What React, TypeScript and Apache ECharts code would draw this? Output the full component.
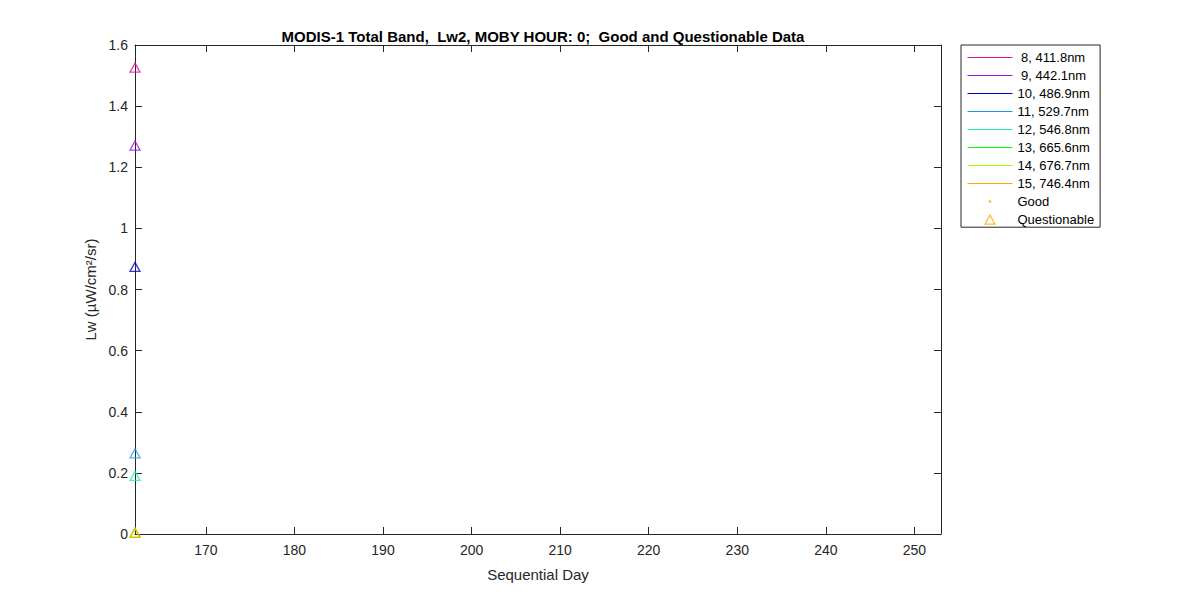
import * as echarts from 'echarts'
import { useEffect, useRef } from 'react'

// Bands and their colours
const bandNames = [
  ' 8, 411.8nm',
  ' 9, 442.1nm',
  '10, 486.9nm',
  '11, 529.7nm',
  '12, 546.8nm',
  '13, 665.6nm',
  '14, 676.7nm',
  '15, 746.4nm'
]
const bandColors = [
  '#E6139B',
  '#9A12E6',
  '#0000CD',
  '#1E9BE6',
  '#1EF0A0',
  '#00FF00',
  '#9BFF00',
  '#FFAA00'
]

// Questionable points (one sequential day)
const questionableDay = [162, 162, 162, 162, 162, 162, 162, 162]
const questionableLw = [1.526, 1.271, 0.874, 0.264, 0.19, 0.004, 0.004, 0.004]

// Good points: none in this picture
const goodDay: number[] = []
const goodLw: number[] = []

const xTicks = [170, 180, 190, 200, 210, 220, 230, 240, 250]

const FONT = '"Liberation Sans", Arial, Helvetica, sans-serif'
const INK = '#262626'
const ORANGE = '#FFAA00'

// legend icons with a 12x12 bounding box so they keep a small size
const triangleIcon = 'path://M0,0 M12,12 M6,1.5 L11,10.5 L1,10.5 Z'
const dotIcon = 'path://M0,0 M12,12 M4.8,4.8 L7.2,4.8 L7.2,7.2 L4.8,7.2 Z'

function App() {
  const chartRef = useRef<HTMLDivElement>(null)

  useEffect(() => {
    if (!chartRef.current) return
    const chart = echarts.init(chartRef.current, undefined, { renderer: 'svg' })

    const xBase = {
      type: 'value' as const,
      min: 162,
      max: 253,
      splitLine: { show: false },
      axisLine: { show: true, onZero: false, lineStyle: { color: INK, width: 1 } },
      axisTick: {
        show: true,
        inside: true,
        length: 7,
        customValues: xTicks,
        lineStyle: { color: INK }
      }
    }
    const yBase = {
      type: 'value' as const,
      min: 0,
      max: 1.6,
      interval: 0.2,
      splitLine: { show: false },
      axisLine: { show: true, onZero: false, lineStyle: { color: INK, width: 1 } },
      axisTick: { show: true, inside: true, length: 7, lineStyle: { color: INK } }
    }

    const lineSeries = bandNames.map((name, i) => ({
      name,
      type: 'line' as const,
      data: [] as number[][],
      symbol: 'none',
      color: bandColors[i],
      lineStyle: { color: bandColors[i], width: 1 }
    }))

    chart.setOption({
      animation: false,
      backgroundColor: '#ffffff',
      textStyle: { fontFamily: FONT },
      title: {
        text: 'MODIS-1 Total Band,  Lw2, MOBY HOUR: 0;  Good and Questionable Data',
        left: 538,
        textAlign: 'center',
        top: 24,
        textStyle: { fontSize: 15, fontWeight: 'bold', color: '#000', fontFamily: FONT }
      },
      grid: { left: 135, right: 259, top: 45, bottom: 66, containLabel: false },
      xAxis: [
        {
          ...xBase,
          position: 'bottom',
          name: 'Sequential Day',
          nameLocation: 'middle',
          nameGap: 33,
          nameTextStyle: { fontSize: 15, color: INK, fontFamily: FONT },
          axisLabel: {
            show: true,
            customValues: xTicks,
            fontSize: 14,
            color: INK,
            margin: 9,
            fontFamily: FONT
          }
        },
        { ...xBase, position: 'top', axisLabel: { show: false } }
      ],
      yAxis: [
        {
          ...yBase,
          position: 'left',
          name: 'Lw (µW/cm²/sr)',
          nameLocation: 'middle',
          nameRotate: 90,
          nameGap: 35,
          nameTextStyle: { fontSize: 15, color: INK, fontFamily: FONT },
          axisLabel: { fontSize: 14, color: INK, margin: 7, fontFamily: FONT }
        },
        { ...yBase, position: 'right', axisLabel: { show: false } }
      ],
      legend: {
        orient: 'vertical',
        left: 961,
        top: 45,
        padding: [6, 6, 1, 6],
        itemWidth: 45,
        itemHeight: 12,
        itemGap: 5,
        symbolKeepAspect: true,
        borderColor: INK,
        borderWidth: 1,
        backgroundColor: '#ffffff',
        textStyle: { fontSize: 13, color: '#000', fontFamily: FONT, lineHeight: 12 },
        data: [
          ...bandNames.map((name, i) => ({
            name,
            itemStyle: { color: 'transparent', borderColor: 'transparent', borderWidth: 0, opacity: 0 },
            lineStyle: { color: bandColors[i], width: 1 }
          })),
          { name: 'Good', icon: dotIcon, itemStyle: { color: ORANGE, borderWidth: 0 } },
          {
            name: 'Questionable',
            icon: triangleIcon,
            itemStyle: { color: 'transparent', borderColor: ORANGE, borderWidth: 1.2 }
          }
        ],
        selectedMode: false
      },
      series: [
        ...lineSeries,
        {
          name: 'Good',
          type: 'scatter',
          symbol: 'circle',
          symbolSize: 3,
          itemStyle: { color: ORANGE },
          data: goodDay.map((d, i) => [d, goodLw[i]])
        },
        {
          name: 'Questionable',
          type: 'scatter',
          symbol: 'triangle',
          symbolSize: [10, 9],
          itemStyle: { color: 'transparent', borderColor: ORANGE, borderWidth: 1.3 },
          data: questionableDay.map((d, i) => ({
            value: [d, questionableLw[i]],
            itemStyle: { color: 'transparent', borderColor: bandColors[i], borderWidth: 1.3 }
          }))
        }
      ]
    })

    return () => {
      chart.dispose()
    }
  }, [])

  return (
    <div
      ref={chartRef}
      style={{ position: 'fixed', left: 0, top: 0, width: '1200px', height: '600px' }}
    />
  )
}

export default App
